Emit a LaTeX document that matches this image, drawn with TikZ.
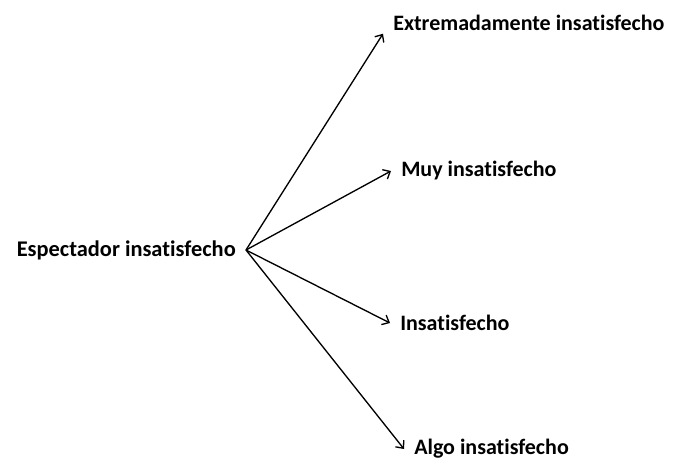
\documentclass[tikz,border=0pt]{standalone}
\usepackage{fontspec}
\setmainfont[Ligatures=NoCommon]{Carlito}
\usepackage{tikz}
\usetikzlibrary{arrows.meta,positioning}
\tikzset{
  grade/.style={
    anchor=west,
    inner xsep=7.5pt,
    inner ysep=2pt,
    font=\fontsize{16.5}{18}\selectfont\bfseries
  },
  source/.style={
    anchor=east,
    inner xsep=7.5pt,
    inner ysep=2pt,
    font=\fontsize{16.8}{18}\selectfont\bfseries
  },
  flowarrow/.style={
    -{Straight Barb[length=4.5pt,width=8pt]},
    line width=1pt,
    draw=black
  }
}
\begin{document}
\begin{tikzpicture}[x=0.75pt,y=-0.75pt]
    \useasboundingbox (0,0) rectangle (679,462);
    \node[source] (espect) at (246,250) {Espectador insatisfecho};
    \node[grade] (extremo) at (383,23) {Extremadamente insatisfecho};
    \node[grade] (muy) at (391,171) {Muy insatisfecho};
    \node[grade] (insat) at (390,323) {Insatisfecho};
    \node[grade] (algo) at (404,449) {Algo insatisfecho};
    \draw[flowarrow] (espect.east) -- (extremo.south west);
    \foreach \b in {muy,insat,algo}
      \draw[flowarrow] (espect.east) -- (\b.west);
  \end{tikzpicture}
\end{document}
